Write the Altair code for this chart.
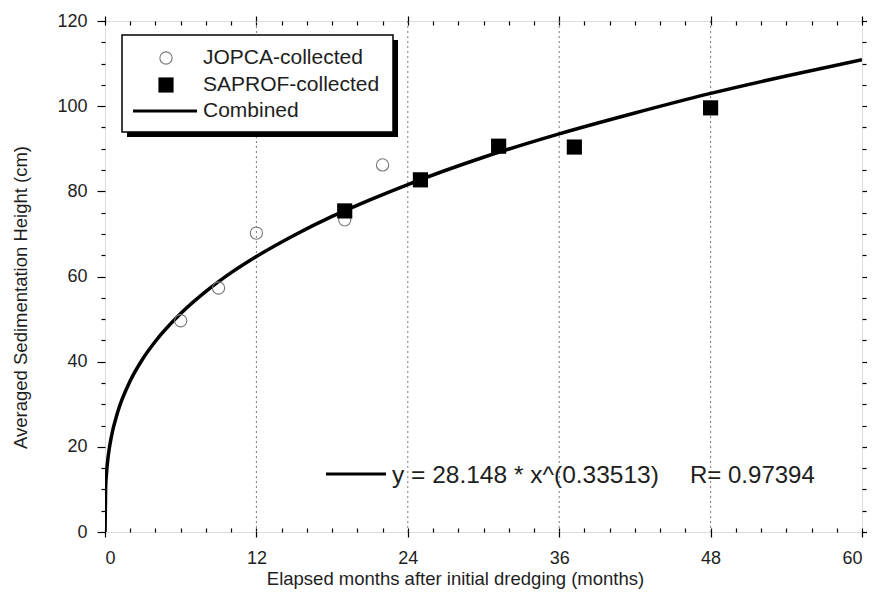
import altair as alt
import pandas as pd

# ---- data ----
jopca_x = [6, 9, 12, 19, 22]
jopca_y = [49.6, 57.3, 70.2, 73.3, 86.2]
saprof_x = [19, 25, 31.2, 37.2, 48]
saprof_y = [75.4, 82.7, 90.6, 90.4, 99.6]
fit_x = [0, 0.05, 0.1, 0.25, 0.5, 1, 2, 3, 4, 6, 8, 10, 12, 15, 18, 21, 24, 30, 36, 42, 48, 54, 60]
fit_y = [0, 10.3, 13.0, 17.7, 22.3, 28.1, 35.5, 40.7, 44.8, 51.3, 56.5, 60.9, 64.7, 69.7, 74.1,
         78.0, 81.6, 88.0, 93.5, 98.4, 103.0, 107.1, 110.9]
grid_x = [12, 24, 36, 48]
x_ticks = list(range(0, 61, 2))
y_ticks = list(range(0, 121, 5))
legend_labels = ["JOPCA-collected", "SAPROF-collected", "Combined"]
eq_text = "y = 28.148 * x^(0.33513)"
r_text = "R= 0.97394"
x_title = "Elapsed months after initial dredging (months)"
y_title = "Averaged Sedimentation Height (cm)"

FONT = "Liberation Sans"
TXT = "#1e1e1e"
W, H = 757, 511

xs = alt.Scale(domain=[0, 60], nice=False, zero=False)
ys = alt.Scale(domain=[0, 120], nice=False, zero=False)

x_major = "datum.value % 12 === 0"
y_major = "datum.value % 20 === 0"

bottom_axis = alt.Axis(
    orient="bottom", values=x_ticks, domain=False, grid=False, offset=-4,
    labelExpr=f"{x_major} ? datum.label : ''", labelOverlap=False,
    tickSize={"condition": {"test": x_major, "value": 9}, "value": 4},
    tickColor="black", tickWidth=1.2,
    labelFont=FONT, labelFontSize=18, labelColor=TXT, labelPadding=12,
    title=x_title, titleFont=FONT, titleFontSize=18.5, titleFontWeight="normal",
    titleColor=TXT, titleX=350, titleY=41, titleBaseline="top",
)
top_axis = alt.Axis(
    orient="top", values=x_ticks, domain=False, grid=False, offset=-4,
    labels=False, title=None,
    tickSize={"condition": {"test": x_major, "value": 9}, "value": 4},
    tickColor="black", tickWidth=1.2,
)
left_axis = alt.Axis(
    orient="left", values=y_ticks, domain=False, grid=False,
    labelExpr=f"{y_major} ? datum.label : ''", labelOverlap=False,
    tickSize={"condition": {"test": y_major, "value": 8}, "value": 4},
    tickColor="black", tickWidth=1.2,
    labelFont=FONT, labelFontSize=18, labelColor=TXT, labelPadding=10,
    title=y_title, titleFont=FONT, titleFontSize=18.5, titleFontWeight="normal",
    titleColor=TXT, titlePadding=26, titleY=276,
)
right_axis = alt.Axis(
    orient="right", values=y_ticks, domain=False, grid=False,
    labels=False, title=None,
    tickSize={"condition": {"test": y_major, "value": 8}, "value": 4},
    tickColor="black", tickWidth=1.2,
)

grid_df = pd.DataFrame({"x": grid_x})
fit_df = pd.DataFrame({"x": fit_x, "y": fit_y})
j_df = pd.DataFrame({"x": jopca_x, "y": jopca_y})
s_df = pd.DataFrame({"x": saprof_x, "y": saprof_y})
one = pd.DataFrame({"a": [0]})

grid = alt.Chart(grid_df).mark_rule(color="#777", strokeDash=[2, 3], strokeWidth=1).encode(
    x=alt.X("x:Q", scale=xs, axis=None)
)

fit = alt.Chart(fit_df).mark_line(color="black", strokeWidth=3.5, interpolate="monotone", clip=True).encode(
    x=alt.X("x:Q", scale=xs, axis=bottom_axis),
    y=alt.Y("y:Q", scale=ys, axis=left_axis),
)

jp = alt.Chart(j_df).mark_point(shape="circle", size=150, filled=False, color="#777", strokeWidth=1.1, opacity=1).encode(
    x=alt.X("x:Q", scale=xs, axis=top_axis),
    y=alt.Y("y:Q", scale=ys, axis=right_axis),
)

sp = alt.Chart(s_df).mark_point(shape="square", size=230, filled=True, color="black", opacity=1).encode(
    x=alt.X("x:Q", scale=xs, axis=None),
    y=alt.Y("y:Q", scale=ys, axis=None),
)

# legend box with shadow
shadow = alt.Chart(one).mark_rect(color="black").encode(
    x=alt.value(22), x2=alt.value(293), y=alt.value(19), y2=alt.value(116)
)
box = alt.Chart(one).mark_rect(fill="white", stroke="black", strokeWidth=1.5).encode(
    x=alt.value(17), x2=alt.value(288), y=alt.value(14), y2=alt.value(111)
)
leg_c = alt.Chart(one).mark_point(shape="circle", size=150, filled=False, color="#777", strokeWidth=1.1, opacity=1).encode(
    x=alt.value(61), y=alt.value(37)
)
leg_s = alt.Chart(one).mark_point(shape="square", size=230, filled=True, color="black", opacity=1).encode(
    x=alt.value(61), y=alt.value(64)
)
leg_l = alt.Chart(one).mark_rule(color="black", strokeWidth=3).encode(
    x=alt.value(28), x2=alt.value(92), y=alt.value(90)
)
leg_t = [
    alt.Chart(one).mark_text(align="left", baseline="middle", font=FONT, fontSize=21, color=TXT).encode(
        x=alt.value(98), y=alt.value(yy), text=alt.value(t)
    )
    for t, yy in zip(legend_labels, [37, 64, 90])
]

eq_l = alt.Chart(one).mark_rule(color="black", strokeWidth=3).encode(
    x=alt.value(221), x2=alt.value(281), y=alt.value(453)
)
eq_t = alt.Chart(one).mark_text(align="left", baseline="middle", font=FONT, fontSize=24.5, color=TXT).encode(
    x=alt.value(287), y=alt.value(455), text=alt.value(eq_text)
)
r_t = alt.Chart(one).mark_text(align="left", baseline="middle", font=FONT, fontSize=24, color=TXT).encode(
    x=alt.value(585), y=alt.value(455), text=alt.value(r_text)
)

chart = alt.layer(
    grid, fit, jp, sp, shadow, box, leg_c, leg_s, leg_l, *leg_t, eq_l, eq_t, r_t
).resolve_axis(x="independent", y="independent").properties(
    width=W, height=H,
    autosize=alt.AutoSizeParams(type="none"),
    padding={"left": 97, "top": 13, "right": 5, "bottom": 70},
).configure_view(stroke="black", strokeWidth=1.5).configure(background="white")

chart.save("out.html", embed_options={"renderer": "svg", "actions": False})
